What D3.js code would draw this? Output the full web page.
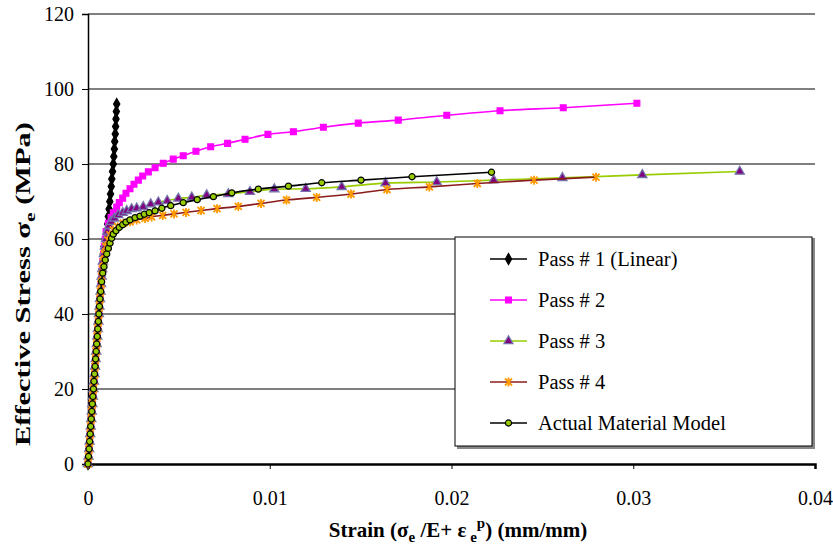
<!DOCTYPE html>
<html>
<head>
<meta charset="utf-8">
<script src="https://cdn.jsdelivr.net/npm/d3@7"></script>
<style>
	body { margin: 0; background: #fff; }
	text { font-family: "Liberation Serif", "Times New Roman", serif; fill: #000; }
</style>
</head>
<body>
<svg id="chart" width="833" height="552"></svg>
<script>
// [strain, stress] pairs
var pass1 = [[0,0],[0.00003,2],[0.00006,4],[0.00009,6],[0.00012,8],[0.00015,10],[0.00018,12],[0.00021,14],
	[0.00024,16],[0.00027,18],[0.0003,20],[0.00033,22],[0.00036,24],[0.00039,26],[0.00042,28],[0.00045,30],
	[0.00048,32],[0.00051,34],[0.00054,36],[0.00057,38],[0.0006,40],[0.00063,42],[0.00066,44],[0.00069,46],
	[0.00072,48],[0.00075,50],[0.00078,52],[0.00081,54],[0.00084,56],[0.00088,58],[0.00095,60],[0.00102,62],
	[0.00108,64],[0.00112,66],[0.00116,68],[0.0012,70],[0.00124,72],[0.00128,74],[0.00131,76],[0.00135,78],
	[0.00139,80],[0.00142,82],[0.00145,84],[0.00147,86],[0.0015,88],[0.00152,90],[0.00154,92],[0.00156,94],[0.00158,96]];

var pass2 = [[0,0],[0.00003,2],[0.00006,4],[0.00009,6],[0.00012,8],[0.00015,10],[0.00018,12],[0.00021,14],
	[0.00024,16],[0.00027,18],[0.0003,20],[0.00033,22],[0.00036,24],[0.00039,26],[0.00042,28],[0.00045,30],
	[0.00048,32],[0.00051,34],[0.00054,36],[0.00057,38],[0.0006,40],[0.00063,42],[0.00066,44],[0.00069,46],
	[0.00072,48],[0.00075,50],[0.00078,52],[0.00082,54],[0.00086,56],[0.0009,58],[0.00095,60],[0.001,62],
	[0.00112,64.2],[0.00127,65.7],[0.00139,67.0],[0.00158,68.5],[0.00172,69.7],[0.00191,70.9],[0.00209,72.2],
	[0.00231,73.4],[0.00253,74.6],[0.00277,75.7],[0.00301,76.8],[0.00332,77.9],[0.00369,79.0],[0.00414,80.2],
	[0.00469,81.3],[0.00524,82.2],[0.00594,83.4],[0.00675,84.6],[0.00768,85.5],[0.00864,86.6],[0.0099,87.9],
	[0.0113,88.6],[0.01295,89.8],[0.01487,90.9],[0.01707,91.7],[0.01974,93.0],[0.02267,94.2],[0.02615,95.0],[0.0302,96.2]];

var pass3 = [[0,0],[0.00003,2],[0.00006,4],[0.00009,6],[0.00012,8],[0.00015,10],[0.00018,12],[0.00021,14],
	[0.00024,16],[0.00027,18],[0.0003,20],[0.00033,22],[0.00036,24],[0.00039,26],[0.00042,28],[0.00045,30],
	[0.00048,32],[0.00051,34],[0.00054,36],[0.00057,38],[0.0006,40],[0.00063,42],[0.00066,44],[0.00069,46],
	[0.00072,48],[0.00075,50],[0.00078,52],[0.00082,54],[0.00087,56],[0.00093,58],[0.00099,60],[0.00106,62],
	[0.00116,63.5],[0.00127,64.6],[0.00145,65.5],[0.00167,66.4],[0.00191,67.0],[0.00213,67.5],[0.0024,68.0],
	[0.00268,68.2],[0.00304,68.6],[0.00345,69.3],[0.00387,69.8],[0.00436,70.2],[0.00497,70.8],[0.00571,71.1],
	[0.00653,71.7],[0.00772,72.0],[0.00891,72.6],[0.01025,73.3],[0.01198,73.4],[0.01396,73.9],[0.01637,74.9],
	[0.01919,75.2],[0.02232,75.7],[0.0261,76.3],[0.0305,77.1],[0.03586,78.0]];

var pass4 = [[0,0],[0.00003,2],[0.00006,4],[0.00009,6],[0.00012,8],[0.00015,10],[0.00018,12],[0.00021,14],
	[0.00024,16],[0.00027,18],[0.0003,20],[0.00033,22],[0.00036,24],[0.00039,26],[0.00042,28],[0.00045,30],
	[0.00048,32],[0.00051,34],[0.00054,36],[0.00057,38],[0.0006,40],[0.00063,42],[0.00066,44],[0.00069,46],
	[0.00072,48],[0.00075,50],[0.00079,52],[0.00084,54],[0.0009,56],[0.00098,58],[0.0011,59.7],[0.00121,61.1],
	[0.00139,62.4],[0.00163,63.3],[0.00194,64.2],[0.00231,64.6],[0.00268,65.1],[0.00314,65.5],[0.0035,65.9],
	[0.00411,66.3],[0.00473,66.7],[0.00539,67.1],[0.00622,67.6],[0.0071,68.1],[0.00827,68.7],[0.00952,69.5],
	[0.01092,70.4],[0.01258,71.1],[0.01447,72.0],[0.01645,73.2],[0.01878,73.9],[0.02142,74.8],[0.02454,75.7],[0.02795,76.5]];

var actualModel = [[0,0],[0.00003,2],[0.00006,4],[0.00009,6],[0.00012,8],[0.00015,10],[0.00018,12],[0.00021,14],
	[0.00024,16],[0.00027,18],[0.0003,20],[0.00033,22],[0.00036,24],[0.00039,26],[0.00042,28],[0.00045,30],
	[0.00048,32],[0.00051,34],[0.00054,36],[0.00057,38],[0.0006,40],[0.00063,42],[0.00066,44],[0.0007,46],
	[0.00075,48.6],[0.00081,50.9],[0.00088,52.6],[0.00095,54.4],[0.00103,56.0],[0.00112,57.5],[0.00121,58.9],
	[0.0013,60.2],[0.00139,61.3],[0.00154,62.2],[0.00172,63.1],[0.00191,63.8],[0.00209,64.5],[0.00231,65.1],
	[0.00259,65.7],[0.00286,66.1],[0.0031,66.6],[0.00337,67.0],[0.00369,67.5],[0.00406,68.2],[0.00455,68.9],
	[0.00524,69.7],[0.00601,70.5],[0.0069,71.3],[0.00791,72.3],[0.00937,73.3],[0.01103,74.1],[0.01286,75.0],
	[0.01502,75.7],[0.01783,76.6],[0.0222,77.8]];

var seriesNames = ["Pass # 1 (Linear)", "Pass # 2", "Pass # 3", "Pass # 4", "Actual Material Model"];
var xTicks = [0, 0.01, 0.02, 0.03, 0.04];
var yTicks = [0, 20, 40, 60, 80, 100, 120];

var series = [
	{name: seriesNames[0], data: pass1, line: "#000000", marker: "diamond", fill: "#000000", stroke: "#000000"},
	{name: seriesNames[1], data: pass2, line: "#ff00ff", marker: "square", fill: "#ff00ff", stroke: "#ff00ff"},
	{name: seriesNames[2], data: pass3, line: "#99cc00", marker: "triangle", fill: "#800080", stroke: "#7474aa"},
	{name: seriesNames[3], data: pass4, line: "#8b1c1c", marker: "star", fill: "none", stroke: "#ff9900"},
	{name: seriesNames[4], data: actualModel, line: "#000000", marker: "circle", fill: "#99cc00", stroke: "#000000"}
];

var svg = d3.select("#chart");

var x = d3.scaleLinear().domain([0, 0.04]).range([88, 815]);
var y = d3.scaleLinear().domain([0, 120]).range([464, 14]);

//horizontal gridlines
svg.append("g")
	.selectAll("line")
	.data(yTicks.filter(function (d) { return d > 0; }))
	.enter().append("line")
	.attr("x1", x(0)).attr("x2", x(0.04))
	.attr("y1", function (d) { return y(d); })
	.attr("y2", function (d) { return y(d); })
	.attr("stroke", "#000")
	.attr("stroke-width", 1);

//axes
var yAxis = svg.append("g")
	.attr("transform", "translate(" + x(0) + ",0)")
	.call(d3.axisLeft(y).tickValues(yTicks).tickSize(6).tickPadding(8).tickFormat(d3.format("d")));

var xAxis = svg.append("g")
	.attr("transform", "translate(0," + y(0) + ")")
	.call(d3.axisBottom(x).tickValues(xTicks).tickSize(5).tickPadding(22)
		.tickFormat(function (d) { return d === 0 ? "0" : d3.format(".2f")(d); }));

[yAxis, xAxis].forEach(function (a) {
	a.select(".domain").attr("stroke", "#000").attr("stroke-width", 1.5);
	a.selectAll(".tick line").attr("stroke", "#000");
	a.selectAll(".tick text").attr("font-size", "20px").attr("font-family", "Liberation Serif");
});
xAxis.select(".domain").attr("stroke-width", 2.5);

//marker shapes
function markerPath(type) {
	switch (type) {
		case "diamond":
			return d3.symbol().type(d3.symbolDiamond).size(34)();
		case "square":
			return d3.symbol().type(d3.symbolSquare).size(34)();
		case "triangle":
			return d3.symbol().type(d3.symbolTriangle).size(36)();
		case "circle":
			return d3.symbol().type(d3.symbolCircle).size(30)();
		case "star":
			return "M-3.5,-3.5L3.5,3.5M-3.5,3.5L3.5,-3.5M0,-4.5L0,4.5";
	}
}

var line = d3.line()
	.x(function (d) { return x(d[0]); })
	.y(function (d) { return y(d[1]); })
	.curve(d3.curveMonotoneX);

var plot = svg.append("g");

series.forEach(function (s) {
	var g = plot.append("g");
	g.append("path")
		.datum(s.data)
		.attr("d", line)
		.attr("fill", "none")
		.attr("stroke", s.line)
		.attr("stroke-width", 1.6);

	g.selectAll("path.mark")
		.data(s.data)
		.enter().append("path")
		.attr("class", "mark")
		.attr("d", markerPath(s.marker))
		.attr("transform", function (d) { return "translate(" + x(d[0]) + "," + y(d[1]) + ")"; })
		.attr("fill", s.fill)
		.attr("stroke", s.stroke)
		.attr("stroke-width", s.marker === "star" ? 1.8 : (s.marker === "triangle" ? 1.3 : 1.2));
});

//legend
var legend = svg.append("g");
legend.append("rect")
	.attr("x", 457).attr("y", 239).attr("width", 358).attr("height", 210)
	.attr("fill", "#888");
legend.append("rect")
	.attr("x", 455).attr("y", 237).attr("width", 357).attr("height", 209)
	.attr("fill", "#fff").attr("stroke", "#000").attr("stroke-width", 1);

var rows = legend.selectAll("g.row")
	.data(series)
	.enter().append("g")
	.attr("class", "row")
	.attr("transform", function (d, i) { return "translate(0," + (259 + i * 41) + ")"; });

rows.append("line")
	.attr("x1", 490).attr("x2", 527)
	.attr("stroke", function (d) { return d.line; })
	.attr("stroke-width", 1.6);

rows.append("path")
	.attr("d", function (d) { return markerPath(d.marker); })
	.attr("transform", "translate(508.5,0)")
	.attr("fill", function (d) { return d.fill; })
	.attr("stroke", function (d) { return d.stroke; })
	.attr("stroke-width", function (d) { return d.marker === "star" ? 1.8 : 1.2; });

rows.append("text")
	.attr("x", 538).attr("y", 7)
	.attr("font-size", "20.5px")
	.text(function (d) { return d.name; });

//axis titles (the vertical one is stretched along its length, as in the picture)
var yTitle = svg.append("text")
	.attr("transform", "translate(30,284) rotate(-90) scale(1.45,1)")
	.attr("text-anchor", "middle")
	.attr("font-weight", "bold")
	.attr("font-size", "21px");
yTitle.append("tspan").text("Effective Stress σ");
yTitle.append("tspan").attr("dy", 5).attr("font-size", "15px").text("e");
yTitle.append("tspan").attr("dy", -5).text(" (MPa)");

var xTitle = svg.append("text")
	.attr("x", 458).attr("y", 537)
	.attr("text-anchor", "middle")
	.attr("font-weight", "bold")
	.attr("font-size", "21px");
xTitle.append("tspan").text("Strain (σ");
xTitle.append("tspan").attr("dy", 5).attr("font-size", "15px").text("e");
xTitle.append("tspan").attr("dy", -5).text(" /E+ ε");
xTitle.append("tspan").attr("dy", 5).attr("font-size", "15px").text(" e");
xTitle.append("tspan").attr("dy", -14).attr("font-size", "15px").text("p");
xTitle.append("tspan").attr("dy", 9).text(") (mm/mm)");
</script>
</body>
</html>
